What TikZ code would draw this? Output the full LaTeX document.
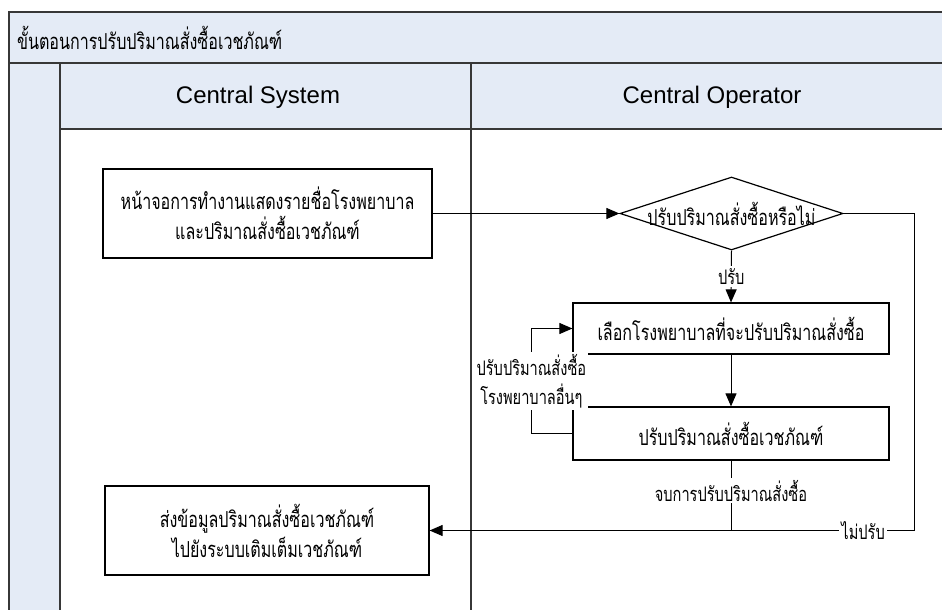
\documentclass[tikz,border=0pt]{standalone}
\usepackage{fontspec}
\setmainfont{Liberation Sans}
\newfontfamily\thaifont[Script=Thai, FakeStretch=0.73]{Loma}
\usetikzlibrary{arrows.meta,shapes.geometric}

\definecolor{lanefill}{RGB}{228,235,246}
\definecolor{laneline}{RGB}{55,55,55}

\begin{document}
\begin{tikzpicture}[x=0.5pt, y=-0.5pt,
    lane/.style={line width=0.9pt, draw=laneline, line cap=rect},
    task/.style={draw, line width=0.6pt, align=center, inner sep=0pt,
                 font=\thaifont\fontsize{11}{15}\selectfont},
    decision/.style={draw, diamond, line width=0.6pt, inner sep=0pt,
                     font=\thaifont\fontsize{11}{15}\selectfont},
    flow/.style={line width=0.5pt, -{Triangle[length=6.5pt, width=5.5pt]}},
    link/.style={line width=0.5pt},
    note/.style={fill=white, inner sep=1pt, align=center,
                 font=\thaifont\fontsize{10}{14.5}\selectfont}]
  \useasboundingbox (0,0) rectangle (942,610);

  % swimlane frame: title band, left strip and the two lane headers
  \fill[lanefill] (9,12) rectangle (942,63);
  \fill[lanefill] (9,63) rectangle (60,610);
  \fill[lanefill] (60,63) rectangle (942,129);
  \draw[lane] (942,12) -- (9,12) -- (9,610);
  \draw[lane] (9,63) -- (942,63);
  \draw[lane] (60,63) -- (60,610);
  \draw[lane] (60,129) -- (942,129);
  \draw[lane] (471,63) -- (471,610);

  \node[anchor=west, font=\thaifont\fontsize{11}{15}\selectfont] (title) at (10,38)
    {ขั้นตอนการปรับปริมาณสั่งซื้อเวชภัณฑ์};
  \node[font=\fontsize{12}{14}\selectfont] (syshead) at (258,97) {Central System};
  \node[font=\fontsize{12}{14}\selectfont] (ophead) at (712,97) {Central Operator};

  % steps: sizes are in pt, positions in lane units
  \node[task, minimum width=164.5pt, minimum height=44.5pt] (disp) at (267.5,213.5)
    {หน้าจอการทำงานแสดงรายชื่อโรงพยาบาล\\และปริมาณสั่งซื้อเวชภัณฑ์};
  \node[decision, minimum width=111.5pt, minimum height=36.5pt] (dec) at (731.5,213.5)
    {\makebox[0pt]{ปรับปริมาณสั่งซื้อหรือไม่}};
  \node[task, minimum width=158pt, minimum height=25.5pt] (pick) at (731,328.5)
    {เลือกโรงพยาบาลที่จะปรับปริมาณสั่งซื้อ};
  \node[task, minimum width=158pt, minimum height=26.5pt] (adj) at (731,433.5)
    {ปรับปริมาณสั่งซื้อเวชภัณฑ์};
  \node[task, minimum width=162pt, minimum height=44.5pt] (send) at (267,530.5)
    {ส่งข้อมูลปริมาณสั่งซื้อเวชภัณฑ์\\ไปยังระบบเติมเต็มเวชภัณฑ์};
  \coordinate (skip) at (914,530.5);

  % connectors
  \draw[flow] (disp.east) -- (dec.west);
  \draw[flow] (dec.south) -- node[note] {ปรับ} (pick.north);
  \draw[flow] (pick.south) -- (adj.north);
  \draw[flow] (adj.west) -- ++(-41,0) |- node[note, pos=0.25]
    {ปรับปริมาณสั่งซื้อ\\โรงพยาบาลอื่นๆ} (pick.west);
  \draw[link] (adj.south) -- node[note, pos=0.43] {จบการปรับปริมาณสั่งซื้อ} (adj.south |- skip);
  \draw[flow] (dec.east) -| (skip) -- node[note, pos=0.105] {ไม่ปรับ} (send.east);
\end{tikzpicture}
\end{document}
